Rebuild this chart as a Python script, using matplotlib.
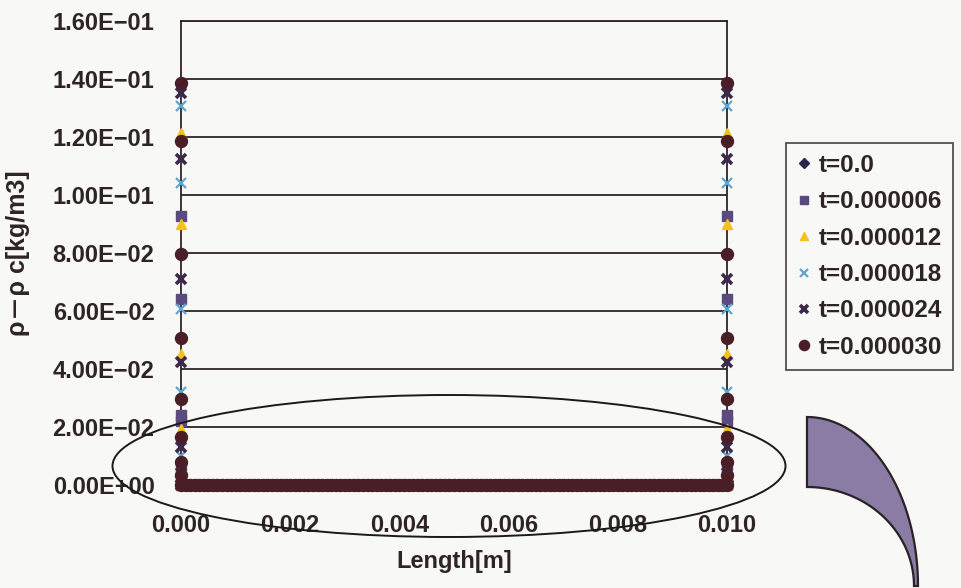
import numpy as np
import matplotlib
matplotlib.use("Agg")
import matplotlib.pyplot as plt
from matplotlib.patches import Ellipse, Polygon

# Density excess near the two walls (same profile at x=0 and x=L)
labels = ["t=0.0", "t=0.000006", "t=0.000012", "t=0.000018", "t=0.000024", "t=0.000030"]
wall_t0 = [0.0, 0.0015]
wall_t6 = [0.0928, 0.0641, 0.0242, 0.0220, 0.0070, 0.0025]
wall_t12 = [0.1215, 0.0900, 0.0452, 0.0193, 0.0060]
wall_t18 = [0.1307, 0.1042, 0.0607, 0.0320, 0.0100, 0.0030]
wall_t24 = [0.1353, 0.1123, 0.0710, 0.0425, 0.0130, 0.0040]
wall_t30 = [0.1387, 0.1186, 0.0797, 0.0507, 0.0298, 0.0165, 0.0080, 0.0035]
walls = [wall_t0, wall_t6, wall_t12, wall_t18, wall_t24, wall_t30]

# Interior mesh: density excess stays at zero between the walls
length = 0.010
x_mesh = np.linspace(0.0, length, 121)
interior = [0.0] * len(x_mesh)

markers = ["D", "s", "^", "x", "x", "o"]
colors = ["#2a2448", "#5b4a80", "#f2c21b", "#5ea6cf", "#3b2a4c", "#4a1e26"]
sizes = [6.0, 7.5, 6.5, 7.5, 7.5, 8.6]
mew = [1, 1, 1, 1.6, 2.6, 1]

ink = "#2e2424"
font = ["Liberation Sans", "Noto Sans CJK JP", "DejaVu Sans"]
plt.rcParams["font.family"] = font
plt.rcParams["font.weight"] = "bold"

fig = plt.figure(figsize=(9.61, 5.88), dpi=100, facecolor="#f8f8f6")
ax = fig.add_axes([181 / 961, 1 - 485 / 588, (727 - 181) / 961, (485 - 21) / 588])
ax.set_facecolor("#f8f8f6")

ax.set_xlim(0, length)
ax.set_ylim(0, 0.16)
ax.set_yticks(np.arange(0, 0.161, 0.02))
ax.set_xticks(np.arange(0, 0.0101, 0.002))
ax.yaxis.set_major_formatter(plt.FuncFormatter(
    lambda v, p: ("%.2E" % v).replace("-", "\u2212")))
ax.xaxis.set_major_formatter(plt.FuncFormatter(lambda v, p: "%.3f" % v))
ax.grid(axis="y", color=ink, lw=1.3)
ax.set_axisbelow(True)
for s in ax.spines.values():
    s.set_color(ink)
    s.set_linewidth(1.3)
ax.tick_params(axis="both", length=0, labelsize=17, colors=ink)
ax.tick_params(axis="y", pad=19)
ax.tick_params(axis="x", pad=21)

for lab, wall, m, c, ms, w in zip(labels, walls, markers, colors, sizes, mew):
    xs = [0.0] * len(wall) + list(x_mesh) + [length] * len(wall)
    ys = list(wall) + interior + list(wall)
    ax.plot(xs, ys, ls="none", marker=m, color=c, ms=ms, mew=w,
            clip_on=False, label=lab, zorder=3)

ax.set_xlabel("Length[m]", fontsize=17, fontweight="bold", color=ink, labelpad=9)
ax.set_ylabel("ρ－ρ c[kg/m3]", fontsize=18, fontweight="bold", color=ink, labelpad=16)

leg = fig.legend(loc="upper left", bbox_to_anchor=(786 / 961, 1 - 143 / 588),
                 borderaxespad=0, frameon=True, fancybox=False, fontsize=17.5,
                 handlelength=0.6, handletextpad=0.3, borderpad=0.45,
                 labelspacing=0.55, markerscale=0.85)
leg.get_frame().set_edgecolor(ink)
leg.get_frame().set_linewidth(1.3)
leg.get_frame().set_facecolor("#f8f8f6")
for t in leg.get_texts():
    t.set_color(ink)

# Highlight ring around the boundary region
W, H = 961.0, 588.0
ring = Ellipse((449 / W, 1 - 466 / H), 673 / W, 142 / H, transform=fig.transFigure,
               fill=False, ec="#1a1a1a", lw=1.4, zorder=10)
fig.add_artist(ring)

# Curved pointer on the right
th = np.linspace(np.pi / 2, 0, 40)
cx, cy = 807.0, 586.0
outer = [(cx + 111 * np.cos(a), cy - 169 * np.sin(a)) for a in th]
inner = [(cx + 107 * np.cos(a), cy - 99 * np.sin(a)) for a in th[::-1]]
pts = [(px / W, 1 - py / H) for px, py in outer + inner]
fig.add_artist(Polygon(pts, closed=True, transform=fig.transFigure,
                       fc="#8a7ca4", ec="#2a2226", lw=1.6, zorder=10))

fig.savefig("out.png", dpi=100, facecolor=fig.get_facecolor())
